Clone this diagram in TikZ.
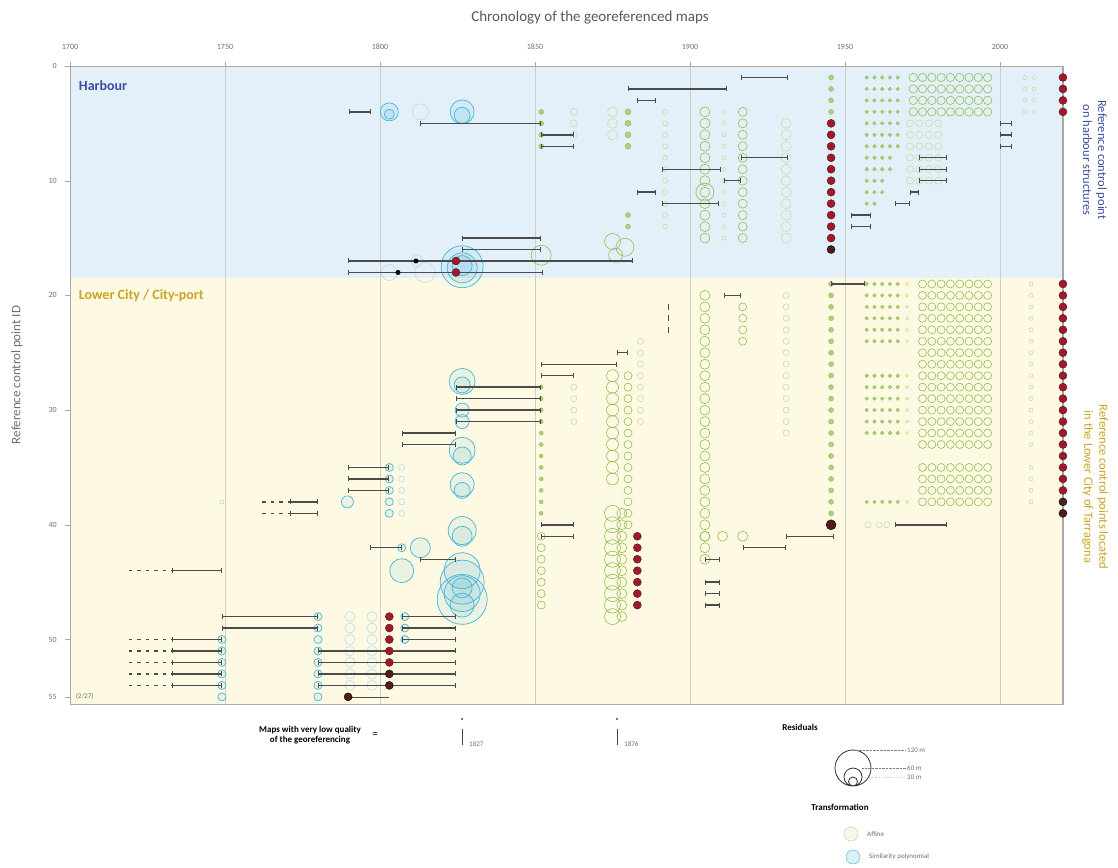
\documentclass[tikz,border=0pt]{standalone}
\usepackage{fontspec}
\setmainfont{Carlito}
\usepackage{xcolor}
\usepackage{tikz}
\usetikzlibrary{arrows.meta}
\definecolor{hblue}{HTML}{E3F0FA}
\definecolor{cyellow}{HTML}{FDF9E3}
\definecolor{gridgrey}{HTML}{CFCFC8}
\definecolor{axgrey}{HTML}{A8A8A8}
\definecolor{tgrey}{HTML}{707070}
\definecolor{affgreen}{HTML}{93BE55}
\definecolor{affpale}{HTML}{CADDA6}
\definecolor{simcyan}{HTML}{45B5DA}
\definecolor{simpale}{HTML}{B7DDEB}
\definecolor{rdotc}{HTML}{A1172B}
\definecolor{bdotc}{HTML}{4E1E17}
\definecolor{rngc}{HTML}{4B4B4B}
\definecolor{harbc}{HTML}{3D4E9E}
\definecolor{cityc}{HTML}{C9A520}
\definecolor{legaff}{HTML}{D8C68A}
\begin{document}
\begin{tikzpicture}[x=1pt,y=-1pt,
  every node/.style={inner sep=1pt},
  ylab/.style={text=tgrey,font=\fontsize{8}{9}\selectfont},
  legbold/.style={font=\fontsize{9}{10.5}\selectfont\bfseries,align=center},
  legtxt/.style={text=tgrey,font=\fontsize{7}{8}\selectfont,anchor=west},
  rng/.style={draw=rngc,line width=1.4pt,{Bar[width=5pt,line width=1pt]}-{Bar[width=5pt,line width=1pt]}},
  dsh/.style={draw=rngc,line width=1.4pt,dash pattern=on 3.5pt off 5pt},
  aff/.style={draw=affgreen,line width=0.6pt},
  affp/.style={draw=affpale,line width=0.6pt},
  affs/.style={fill=affgreen!75,draw=affgreen,line width=0.4pt},
  sim/.style={draw=simcyan,line width=0.7pt,fill=simcyan,fill opacity=0.1},
  simp/.style={draw=simpale,line width=0.6pt},
  rdot/.style={fill=rdotc,draw=bdotc,line width=0.4pt},
  bdot/.style={fill=bdotc,draw=black,line width=0.4pt}]
\useasboundingbox[fill=white] (0,0) rectangle (1118,867);

\node[font=\fontsize{15}{17}\selectfont,text=black!65] (title) at (590,18) {Chronology of the georeferenced maps};
\foreach \yr [count=\k] in {1700,1750,...,2000}
  \node[ylab] (yr\k) at ({70+(\yr-1700)*3.1},47) {\yr};
\foreach \id in {0,10,20,30,40,50,55}
  \node[ylab,anchor=east] (id\id) at (58,{66+\id*11.47}) {\id};
\node[rotate=90,text=tgrey,font=\fontsize{13}{15}\selectfont] (idtitle) at (17,375) {Reference control point ID};

\begin{scope}[x=3.1pt,y=-11.47pt,shift={(-5200pt,-66pt)}]
  \fill[hblue] (1700,0) rectangle (2020.3,18.5);
  \fill[cyellow] (1700,18.5) rectangle (2020.3,55.7);
  \foreach \yr in {1750,1800,...,2000} \draw[gridgrey,line width=0.8pt] (\yr,0) -- (\yr,55.7);
  \draw[axgrey,line width=0.8pt] (1700,0) -- (2020.3,0);
  \draw[axgrey,line width=0.8pt] (1700,0) -- (1700,55.7) -- (2020.3,55.7);
  \draw[axgrey,line width=2pt] (2020.3,0) -- (2020.3,55.7);
  \foreach \id in {0,10,20,30,40,50,55} \draw[axgrey] (1698.5,\id) -- (1700,\id);
  \foreach \yr in {1700,1750,...,2000} \draw[axgrey] (\yr,-0.35) -- (\yr,0);

  \node[text=harbc,font=\fontsize{14}{16}\selectfont\bfseries,anchor=west] (harb) at (1702.5,1.7) {Harbour};
  \node[text=cityc,font=\fontsize{14}{16}\selectfont\bfseries,anchor=west] (city) at (1702.5,20) {Lower City / City-port};
  \node[legtxt] (cnt) at (1701.5,55) {(2/27)};

  \foreach \id in {4,...,7} {\fill[affs] (1852,\id) circle (2.5pt); \fill[affs] (1880,\id) circle (3pt);}
  \foreach \id in {4,5,6} {\draw[affp] (1862.5,\id) circle (3.5pt); \draw[affp] (1875,\id) circle (5pt);}
  \foreach \id in {4,...,14} \draw[affp] (1892,\id) circle (2.5pt);
  \foreach \id in {4,...,15} {\draw[aff] (1904.8,\id) circle (5pt); \draw[affp] (1911,\id) circle (2pt); \draw[aff] (1917,\id) circle (4.5pt);}
  \foreach \id in {5,...,15} \draw[affp] (1931,\id) circle (5pt);
  \foreach \yr/\id/\r in {1875/15.3/8,1879/15.8/9,1876/16.5/7,1852/16.5/10,1904.8/11/9}
    \draw[aff] (\yr,\id) circle (\r pt);
  \foreach \id in {13,14} \fill[affs] (1880,\id) circle (2.5pt);
  \foreach \id in {1,...,4} \fill[affs] (1945.5,\id) circle (2.5pt);
  \foreach \id in {1,...,4} {
    \foreach \yr in {1957,1959.5,...,1967} \fill[affs] (\yr,\id) circle (1.8pt);
    \foreach \yr in {1972,1975,...,1996} \draw[aff] (\yr,\id) circle (4.2pt);
    \foreach \yr in {2008,2011} \draw[affp] (\yr,\id) circle (2pt);
  }
  \foreach \id/\e in {5/1967,6/1967,7/1967,8/1964.5,9/1964.5,10/1962,11/1962,12/1959.5}
    \foreach \yr in {1957,1959.5,...,\e} \fill[affs] (\yr,\id) circle (1.8pt);
  \foreach \id in {5,...,10} \foreach \yr in {1971,1974,...,1980} \draw[affp] (\yr,\id) circle (3.5pt);

  \foreach \id in {19,...,39} \fill[affs] (1945.5,\id) circle (2.5pt);
  \foreach \id in {20,...,43} \draw[aff] (1904.8,\id) circle (5pt);
  \foreach \id in {21,...,24} \draw[aff] (1917,\id) circle (4pt);
  \foreach \id in {20,...,32} \draw[affp] (1931,\id) circle (3pt);
  \foreach \id in {28,...,39} \fill[affs] (1852,\id) circle (2pt);
  \foreach \id in {41,...,47} \draw[aff] (1852,\id) circle (4pt);
  \foreach \id in {28,...,31} \draw[affp] (1862.5,\id) circle (3pt);
  \foreach \id in {27,...,36} \draw[aff] (1875,\id) circle (6pt);
  \foreach \id in {27,...,40} \draw[aff] (1880,\id) circle (4pt);
  \foreach \id in {24,...,31} \draw[affp] (1884,\id) circle (3pt);
  \foreach \id in {39,...,48} {\draw[aff] (1875,\id) circle (8pt); \draw[aff] (1878,\id) circle (5pt);}
  \foreach \id in {21,22,23} \draw[rngc,line width=0.8pt] (1893,\id-0.25) -- (1893,\id+0.25);
  \foreach \yr in {1904.8,1910.5,1917} \draw[aff] (\yr,41) circle (5pt);
  \foreach \id in {19,20,21,22,23,24,27,28,29,30,31,32,38} {
    \foreach \yr in {1957,1959.5,...,1967} \fill[affs] (\yr,\id) circle (1.8pt);
    \draw[affp] (1970,\id) circle (1.5pt);
  }
  \foreach \id in {19,...,33,35,36,37,38} {
    \foreach \yr in {1975,1978,...,1996} \draw[aff] (\yr,\id) circle (4pt);
    \draw[affp] (2010,\id) circle (2pt);
  }
  \foreach \yr in {1957.5,1961,1963.5} \draw[affp] (\yr,40) circle (3pt);

  \foreach \yr/\id/\r in {1803/4/9,1803/4.2/5,1826.5/4/12,1826.5/4.3/8,
    1826.5/17.5/21,1826.5/17.6/15,1826.5/17.4/10,
    1826.5/27.5/13,1826.5/27.8/8,1826.5/30/7,1826.5/31/7,1826.5/33.5/13,1826.5/34/9,
    1826.5/36.5/12,1826.5/37/8,1826.5/40.5/14,1826.5/41/10,1826.5/44/18,1826.5/45/22,
    1826.5/46/18,1826.5/46.5/25,1826.5/47/12,1826.5/45.5/10,
    1813/42/10,1807/44/12,1789.5/38/6}
    \draw[sim] (\yr,\id) circle (\r pt);
  \foreach \yr/\id in {1803/35,1803/36,1803/37,1803/38,1803/39,1807/42,1808/48,1808/49,1808/50,
    1780/48,1780/49,1780/50,1780/51,1780/52,1780/53,1780/54,1780/55,
    1749/50,1749/51,1749/52,1749/53,1749/54,1749/55}
    \draw[sim] (\yr,\id) circle (4pt);
  \foreach \yr/\id/\r in {1813/4/8,1803/18/8,1814.5/18/10,1812/17/6,1749/38/2}
    \draw[simp] (\yr,\id) circle (\r pt);
  \foreach \id in {35,...,39} \draw[simp] (1807,\id) circle (3pt);
  \foreach \id in {48,...,54} {\draw[simp] (1790.3,\id) circle (5pt); \draw[simp] (1797.4,\id) circle (5pt);}

  \foreach \a/\b/\id in {1916.5/1931.5/1,1880/1912/2,1883/1889/3,1790/1797/4,1813/1852/5,
    1852/1862.5/6,1852/1862.5/7,1916.5/1931.5/8,1891/1910/9,1911/1916.5/10,1883/1889/11,
    1891/1909.5/12,1826.5/1852/15,1826.5/1852/16,1789.7/1881.6/17,1789.7/1852.5/18,
    2000/2004/5,2000/2004/6,2000/2004/7,1974/1983/8,1974/1983/9,1974/1983/10,
    1971/1974/11,1966/1971/12,1952/1958.5/13,1952/1958.5/14}
    \draw[rng] (\a,\id) -- (\b,\id);
  \foreach \a/\b/\id in {1945.5/1956.5/19,1911/1916.5/20,1876.5/1880/25,1852/1876.5/26,1852/1862.5/27,
    1824.5/1852/28,1824.5/1852/29,1824.5/1852/30,1824.5/1852/31,1807/1824.5/32,1807/1824.5/33,
    1789.7/1803/35,1789.7/1803/36,1789.7/1803/37,1771/1780/38,1771/1780/39,
    1852/1862.5/40,1852/1862.5/41,1966/1983/40,1931/1946.5/41,1917/1931/42,1796.8/1807/42,
    1813/1824.5/43,1904.8/1909.7/43,1733/1749/44,1904.8/1909.7/45,1904.8/1909.7/46,1904.8/1909.7/47,
    1749/1780/48,1749/1780/49,1807/1824.5/48,1807/1824.5/49,1807/1824.5/50,
    1733/1749/50,1733/1749/51,1733/1749/52,1733/1749/53,1733/1749/54,
    1780/1824.5/51,1780/1824.5/52,1780/1824.5/53,1780/1824.5/54}
    \draw[rng] (\a,\id) -- (\b,\id);
  \foreach \a/\b/\id in {1762/1771/38,1762/1771/39,1719/1733/44,1719/1733/50,1719/1733/51,
    1719/1733/52,1719/1733/53,1719/1733/54}
    \draw[dsh] (\a,\id) -- (\b,\id);

  \foreach \id in {5,...,15} \filldraw[rdot] (1945.5,\id) circle (4pt);
  \filldraw[bdot] (1945.5,16) circle (4pt);
  \foreach \id in {1,...,4} \filldraw[rdot] (2020.3,\id) circle (4pt);
  \foreach \id in {19,...,37} \filldraw[rdot] (2020.3,\id) circle (4pt);
  \foreach \id in {38,39} \filldraw[bdot] (2020.3,\id) circle (4pt);
  \foreach \id in {41,...,47} \filldraw[rdot] (1883,\id) circle (4pt);
  \foreach \id in {48,...,52} \filldraw[rdot] (1803,\id) circle (4pt);
  \foreach \id in {53,54} \filldraw[bdot] (1803,\id) circle (4pt);
  \filldraw[bdot] (1945.5,40) circle (5pt);
  \draw[rngc,line width=0.5pt] (1789.7,55) -- (1803,55);
  \filldraw[bdot] (1789.7,55) circle (4pt);
  \foreach \id in {17,18} \filldraw[rdot] (1824.5,\id) circle (4pt);
  \fill[black] (1811.6,17) circle (2.5pt) (1805.8,18) circle (2.5pt);
\end{scope}

\node[rotate=-90,text=harbc,align=center,font=\fontsize{12.5}{15}\selectfont] (harbnote) at (1095,160) {Reference control point\\on harbour structures};
\node[rotate=-90,text=cityc,align=center,font=\fontsize{12.5}{15}\selectfont] (citynote) at (1095,487) {Reference control points located\\in the Lower City of Tarragona};

\node[legbold] (lowq) at (310,735) {Maps with very low quality\\of the georeferencing};
\node[font=\fontsize{11}{11}\selectfont] (eq) at (375,735) {=};
\foreach \x/\lab in {462/1827,617/1876} {
  \fill[rngc] (\x,719) circle (1.2pt);
  \draw[rngc,line width=0.6pt] (\x,729) -- (\x,745);
  \node[legtxt] (m\lab) at (\x+6,744) {\lab};
}
\node[legbold] (resid) at (800,727) {Residuals};
\draw[black!80,line width=0.8pt] (853,768) circle (18pt) (853,777) circle (9pt) (853,781.5) circle (4.5pt);
\node[legtxt] (r120) at (906,750) {120 m};
\node[legtxt] (r60) at (906,768) {60 m};
\node[legtxt] (r30) at (906,777) {30 m};
\draw[gray,densely dotted] (853,750) -- (r120.west);
\draw[gray,densely dotted] (862,768) -- (r60.west);
\draw[gray,densely dotted] (857,778) -- (r30.west);
\node[legbold] (transf) at (840,807) {Transformation};
\draw[draw=legaff,fill=legaff!15] (851,834) circle (7pt);
\node[legtxt] (affl) at (866,834) {Affine};
\draw[draw=simcyan,fill=simcyan!20] (853,857) circle (7pt);
\node[legtxt] (siml) at (868,857) {Similarity polynomial};
\end{tikzpicture}
\end{document}
